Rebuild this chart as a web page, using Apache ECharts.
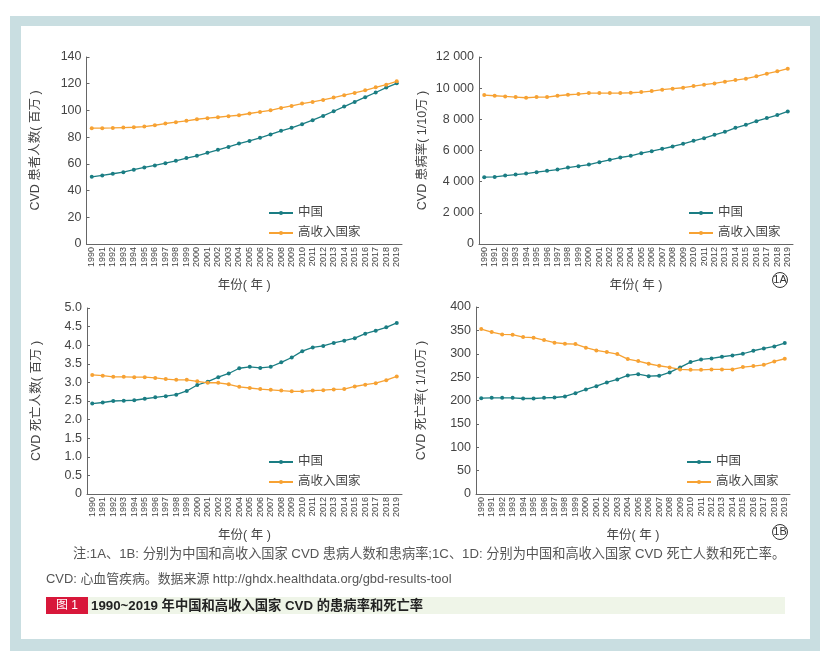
<!DOCTYPE html>
<html>
<head>
<meta charset="utf-8">
<script src="https://cdn.jsdelivr.net/npm/echarts@6/dist/echarts.min.js"></script>
<style>
html,body{margin:0;padding:0;background:#fff;}
#c{width:831px;height:658px;}
</style>
</head>
<body>
<div id="c"></div>
<script>
const years = ['1990','1991','1992','1993','1994','1995','1996','1997','1998','1999','2000','2001','2002','2003','2004','2005','2006','2007','2008','2009','2010','2011','2012','2013','2014','2015','2016','2017','2018','2019'];
const seriesNames = ['中国', '高收入国家'];

// 1A left: CVD patients (million)
const prevCountChina = [50.3,51.3,52.6,53.8,55.6,57.3,58.8,60.5,62.3,64.3,66.0,68.3,70.5,72.7,75.2,77.2,79.5,82.0,84.7,87.0,89.7,92.7,95.9,99.4,102.9,106.4,109.9,113.4,117.1,120.3];
const prevCountHigh = [86.7,86.7,86.9,87.2,87.4,87.9,88.9,90.2,91.2,92.2,93.4,94.2,94.9,95.7,96.4,97.7,98.9,100.1,101.9,103.4,105.1,106.4,107.9,109.6,111.4,113.1,115.1,117.3,119.3,121.8];

// 1A right: CVD prevalence (per 100k)
const prevRateChina = [4286,4307,4393,4457,4521,4607,4693,4778,4907,4993,5100,5250,5400,5550,5657,5828,5957,6107,6257,6428,6621,6793,7007,7200,7457,7650,7885,8078,8271,8507];
const prevRateHigh = [9557,9514,9471,9428,9385,9428,9428,9514,9578,9621,9685,9685,9685,9685,9707,9750,9814,9900,9964,10028,10135,10221,10307,10414,10521,10607,10757,10928,11078,11250];

// 1B left: CVD deaths (million)
const deathCountChina = [2.43,2.46,2.50,2.51,2.52,2.56,2.60,2.63,2.67,2.77,2.93,3.02,3.14,3.24,3.38,3.42,3.39,3.42,3.54,3.67,3.84,3.94,3.98,4.06,4.12,4.19,4.31,4.39,4.48,4.60];
const deathCountHigh = [3.20,3.18,3.15,3.15,3.14,3.14,3.12,3.09,3.07,3.07,3.03,2.99,2.99,2.95,2.88,2.85,2.82,2.80,2.78,2.76,2.76,2.78,2.79,2.81,2.82,2.89,2.94,2.98,3.06,3.16];

// 1B right: CVD mortality (per 100k)
const deathRateChina = [205,205.7,205.7,205.7,204.3,204.3,205.7,206.4,208.6,215.7,223.6,230.7,238.6,245,253.6,256.4,252.1,252.9,260,270.7,282.1,287.9,290,293.6,296.4,300,306.4,311.4,315.7,322.9];
const deathRateHigh = [352.9,346.4,341.4,340.7,335.7,334.3,329.3,323.6,321.4,320.7,312.9,307.1,303.6,299.3,288.6,284.3,278.6,274.3,270.7,266.4,265.7,265.7,266.4,266.4,266.4,271.4,273.6,276.4,283.6,289.3];

const yNames = ['CVD 患者人数( 百万 )', 'CVD 患病率( 1/10万 )', 'CVD 死亡人数( 百万 )', 'CVD 死亡率( 1/10万 )'];
const xName = '年份( 年 )';
const noteLine1 = '注:1A、1B: 分别为中国和高收入国家 CVD 患病人数和患病率;1C、1D: 分别为中国和高收入国家 CVD 死亡人数和死亡率。';
const noteLine2 = 'CVD: 心血管疾病。数据来源 http://ghdx.healthdata.org/gbd-results-tool';
const captionTag = '图 1';
const captionText = '1990~2019 年中国和高收入国家 CVD 的患病率和死亡率';
const panelTags = ['1A', '1B'];

const FONT = "'Liberation Sans', 'Noto Sans CJK SC', sans-serif";
const TEAL = '#1a7d83';
const ORANGE = '#f7a233';
const AXIS = '#666';
const TXT = '#444';

const grids = [
  {left: 86.5, top: 57, width: 315.5, height: 187},
  {left: 479, top: 57, width: 314, height: 187},
  {left: 87, top: 308, width: 315, height: 186},
  {left: 476, top: 307, width: 314, height: 187}
];
const yCfg = [
  {max: 140, interval: 20, fmt: v => String(v), gap: 45},
  {max: 12000, interval: 2000, fmt: v => v === 0 ? '0' : (Math.floor(v/1000) + ' ' + String(v%1000).padStart(3,'0')), gap: 50},
  {max: 5, interval: 0.5, fmt: v => v === 0 ? '0' : v.toFixed(1), gap: 44},
  {max: 400, interval: 50, fmt: v => String(v), gap: 48}
];
const dataSets = [
  [prevCountChina, prevCountHigh],
  [prevRateChina, prevRateHigh],
  [deathCountChina, deathCountHigh],
  [deathRateChina, deathRateHigh]
];

const xAxis = [], yAxis = [], series = [], legend = [];
grids.forEach((g, i) => {
  xAxis.push({
    type: 'category', gridIndex: i, data: years, boundaryGap: true,
    name: xName, nameLocation: 'middle', nameGap: 35,
    nameTextStyle: {fontFamily: FONT, fontSize: 12.5, color: TXT},
    axisLine: {lineStyle: {color: AXIS, width: 1}},
    axisTick: {inside: true, length: 3, lineStyle: {color: AXIS}},
    axisLabel: {interval: 0, rotate: 90, fontSize: 9, fontFamily: FONT, color: TXT, margin: 3}
  });
  yAxis.push({
    type: 'value', gridIndex: i, min: 0, max: yCfg[i].max, interval: yCfg[i].interval,
    name: yNames[i], nameLocation: 'middle', nameGap: yCfg[i].gap, nameRotate: 90,
    nameTextStyle: {fontFamily: FONT, fontSize: 12.5, color: TXT},
    axisLine: {show: true, lineStyle: {color: AXIS, width: 1}},
    axisTick: {show: true, inside: true, length: 3, lineStyle: {color: AXIS}},
    splitLine: {show: false},
    axisLabel: {formatter: yCfg[i].fmt, fontSize: 12.5, fontFamily: FONT, color: TXT, margin: 5}
  });
  [TEAL, ORANGE].forEach((col, k) => {
    series.push({
      type: 'line', name: seriesNames[k], xAxisIndex: i, yAxisIndex: i,
      data: dataSets[i][k], symbol: 'circle', symbolSize: 4, showSymbol: true,
      itemStyle: {color: col}, lineStyle: {color: col, width: 1.3}, emphasis: {disabled: true}
    });
  });
  const legLeft = (i % 2 === 0) ? 263 : (i === 1 ? 683 : 681);
  const legTop = (i < 2) ? 201 : 450;
  legend.push({
    data: seriesNames, orient: 'vertical', left: legLeft, top: legTop,
    itemWidth: 24, itemHeight: 5, itemGap: 6, selectedMode: false,
    textStyle: {fontFamily: FONT, fontSize: 12.5, color: TXT, height: 14, lineHeight: 14}
  });
});

const graphic = [
  {type: 'rect', z: -10, shape: {x: 10, y: 16, width: 810, height: 635}, style: {fill: '#c9dee1'}},
  {type: 'rect', z: -9, shape: {x: 21, y: 26, width: 789, height: 613}, style: {fill: '#ffffff'}},
  {type: 'circle', shape: {cx: 780, cy: 280, r: 7.5}, style: {fill: 'none', stroke: '#333', lineWidth: 1}},
  {type: 'text', x: 780, y: 280, style: {text: panelTags[0], fontFamily: FONT, fontSize: 11, fill: '#333', align: 'center', verticalAlign: 'middle'}},
  {type: 'circle', shape: {cx: 780, cy: 532, r: 7.5}, style: {fill: 'none', stroke: '#333', lineWidth: 1}},
  {type: 'text', x: 780, y: 532, style: {text: panelTags[1], fontFamily: FONT, fontSize: 11, fill: '#333', align: 'center', verticalAlign: 'middle'}},
  {type: 'text', x: 73, y: 554, style: {text: noteLine1, fontFamily: FONT, fontSize: 13.2, fill: '#555', verticalAlign: 'middle'}},
  {type: 'text', x: 46, y: 579, style: {text: noteLine2, fontFamily: FONT, fontSize: 12.9, fill: '#555', verticalAlign: 'middle'}},
  {type: 'rect', shape: {x: 88, y: 597, width: 697, height: 17}, style: {fill: '#eff5e8'}},
  {type: 'rect', shape: {x: 46, y: 597, width: 42, height: 17}, style: {fill: '#d8173a'}},
  {type: 'text', x: 67, y: 606, style: {text: captionTag, fontFamily: FONT, fontSize: 12, fill: '#fff', align: 'center', verticalAlign: 'middle'}},
  {type: 'text', x: 91, y: 606, style: {text: captionText, fontFamily: FONT, fontSize: 13.3, fontWeight: 'bold', fill: '#222', verticalAlign: 'middle'}}
];

const chart = echarts.init(document.getElementById('c'), null, {renderer: 'canvas'});
chart.setOption({
  animation: false,
  backgroundColor: '#ffffff',
  grid: grids.map(g => Object.assign({outerBoundsMode: 'none', containLabel: false}, g)),
  xAxis, yAxis, series, legend, graphic
});
</script>
</body>
</html>
